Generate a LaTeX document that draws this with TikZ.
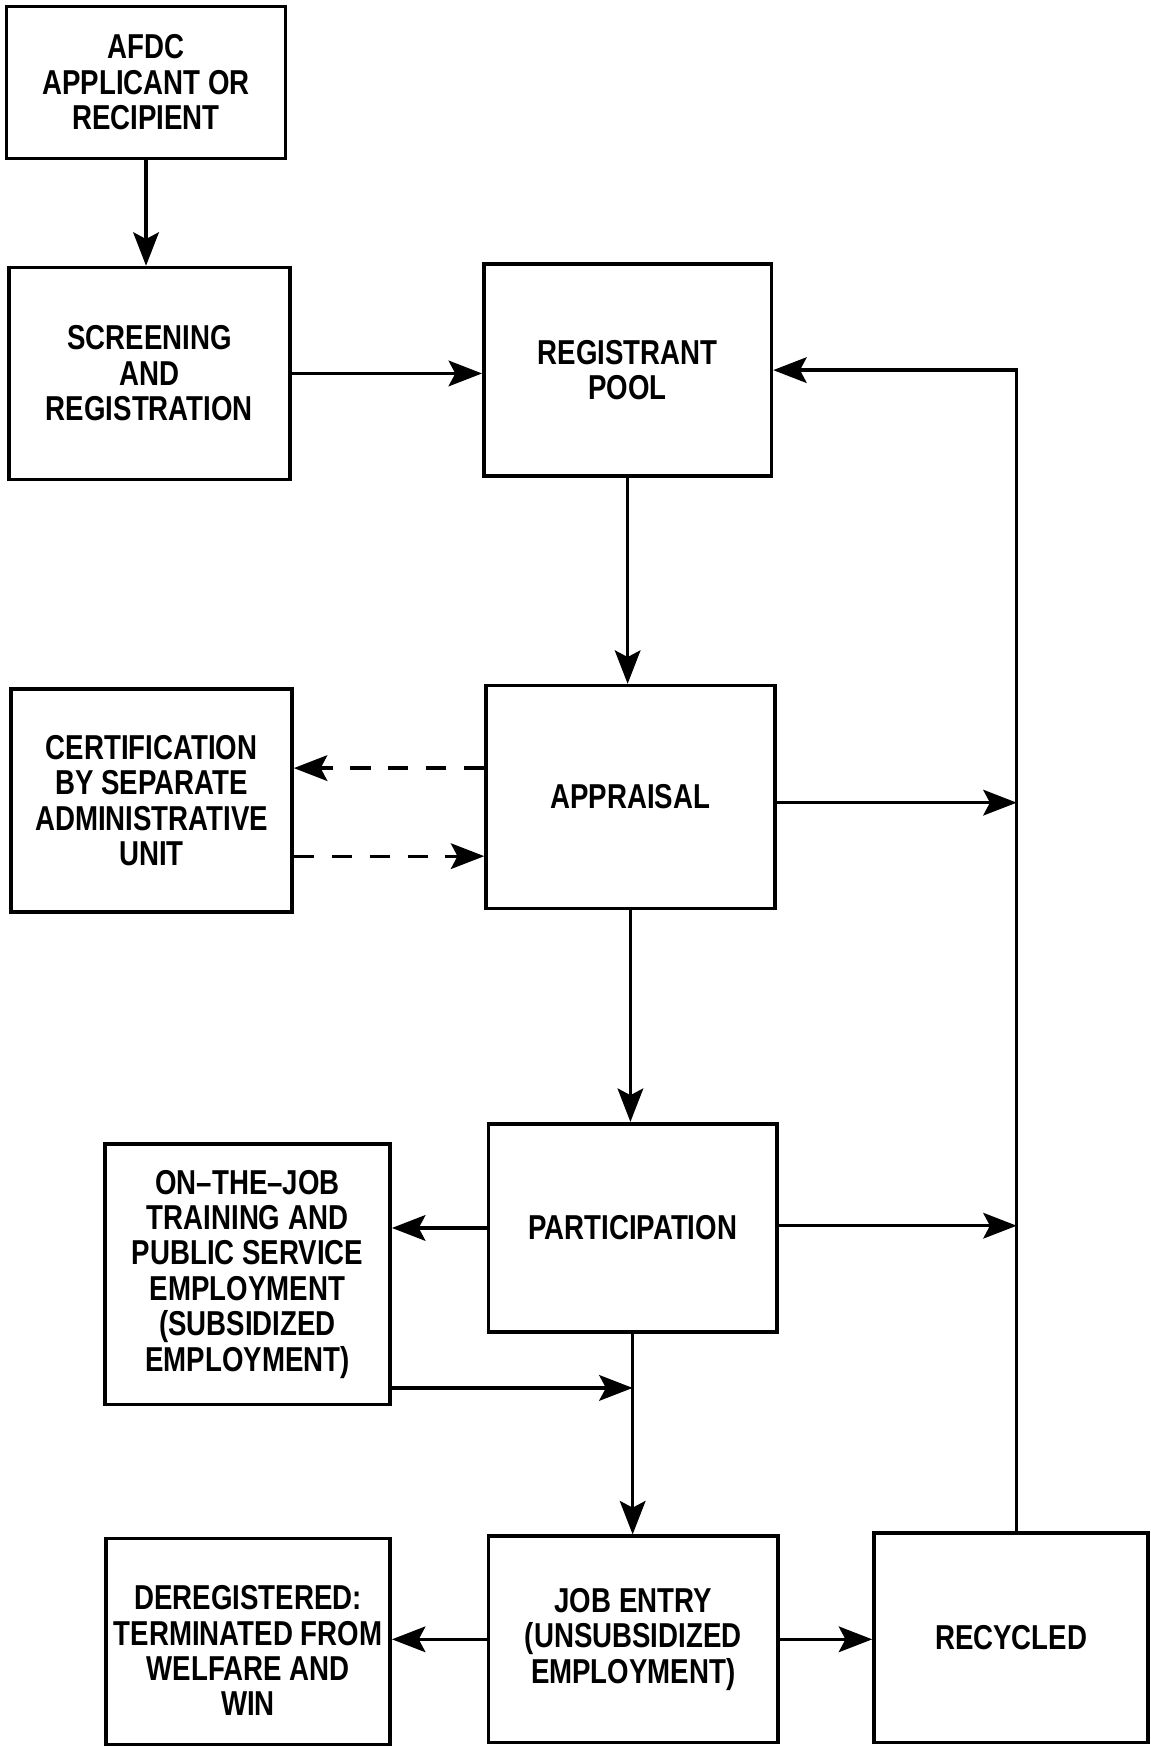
\documentclass[tikz,border=0pt]{standalone}
\usepackage{fontspec}
\setmainfont{Liberation Sans}[FakeStretch=0.8]
\usetikzlibrary{arrows.meta}
\tikzset{
  box/.style={draw, line width=3.2pt, align=center, inner sep=0pt,
    font=\fontsize{31}{31.8}\selectfont\bfseries},
  arr/.style={line width=3pt, -{Stealth[length=30pt,width=23pt,inset=6pt]}},
  darr/.style={arr, dash pattern=on 18pt off 16pt},
}
\begin{document}
\begin{tikzpicture}[x=1pt,y=-1pt]
\useasboundingbox (0,0) rectangle (1032,1568);
\node[box, minimum width=250pt, minimum height=136pt] (afdc) at (131,74) {AFDC\\APPLICANT OR\\RECIPIENT};
\node[box, minimum width=252pt, minimum height=190pt] (screen) at (134,335) {SCREENING\\AND\\REGISTRATION};
\node[box, minimum width=258pt, minimum height=190pt] (pool) at (563,332) {REGISTRANT\\POOL};
\node[box, minimum width=252pt, minimum height=200pt] (cert) at (136,718) {CERTIFICATION\\BY SEPARATE\\ADMINISTRATIVE\\UNIT};
\node[box, minimum width=259pt, minimum height=200pt] (appr) at (565.5,715) {APPRAISAL};
\node[box, minimum width=256pt, minimum height=234pt] (ojt) at (222,1143) {ON--THE--JOB\\TRAINING AND\\PUBLIC SERVICE\\EMPLOYMENT\\(SUBSIDIZED\\EMPLOYMENT)};
\node[box, minimum width=259pt, minimum height=187pt] (part) at (567.5,1101.5) {PARTICIPATION};
\node[box, minimum width=255pt, minimum height=185pt] (dereg) at (222.5,1472.5) {\rule{0pt}{38pt}DEREGISTERED:\\TERMINATED FROM\\WELFARE AND\\WIN};
\node[box, minimum width=260pt, minimum height=185pt] (job) at (568,1470.5) {JOB ENTRY\\(UNSUBSIDIZED\\EMPLOYMENT)};
\node[box, minimum width=246pt, minimum height=188pt] (recyc) at (907,1469) {RECYCLED};
\coordinate (rtop) at (912,332);
% connectors
\draw[arr] (afdc.south) -- (afdc.south |- screen.north);
\draw[arr] (screen.east) -- (screen.east -| pool.west);
\draw[arr] (recyc.north -| rtop) -- (rtop) -- (pool.east |- rtop);
\draw[arr] (pool.south) -- (pool.south |- appr.north);
\draw[darr] ([yshift=26pt]appr.west) -- ([yshift=26pt]appr.west -| cert.east);
\draw[darr] ([yshift=-50pt]cert.east) -- ([yshift=-53pt]appr.west);
\draw[arr] ([yshift=-5pt]appr.east) -- ([yshift=-5pt]appr.east -| rtop);
\draw[arr] (appr.south) -- (appr.south |- part.north);
\draw[arr] (part.west) -- (part.west -| ojt.east);
\draw[arr] ([yshift=2pt]part.east) -- ([yshift=2pt]part.east -| rtop);
\draw[arr] ([yshift=-102pt]ojt.east) -- ([yshift=-102pt]ojt.east -| part.south);
\draw[arr] (part.south) -- (part.south |- job.north);
\draw[arr] (job.west) -- (job.west -| dereg.east);
\draw[arr] (job.east) -- (job.east -| recyc.west);
\end{tikzpicture}
\end{document}
